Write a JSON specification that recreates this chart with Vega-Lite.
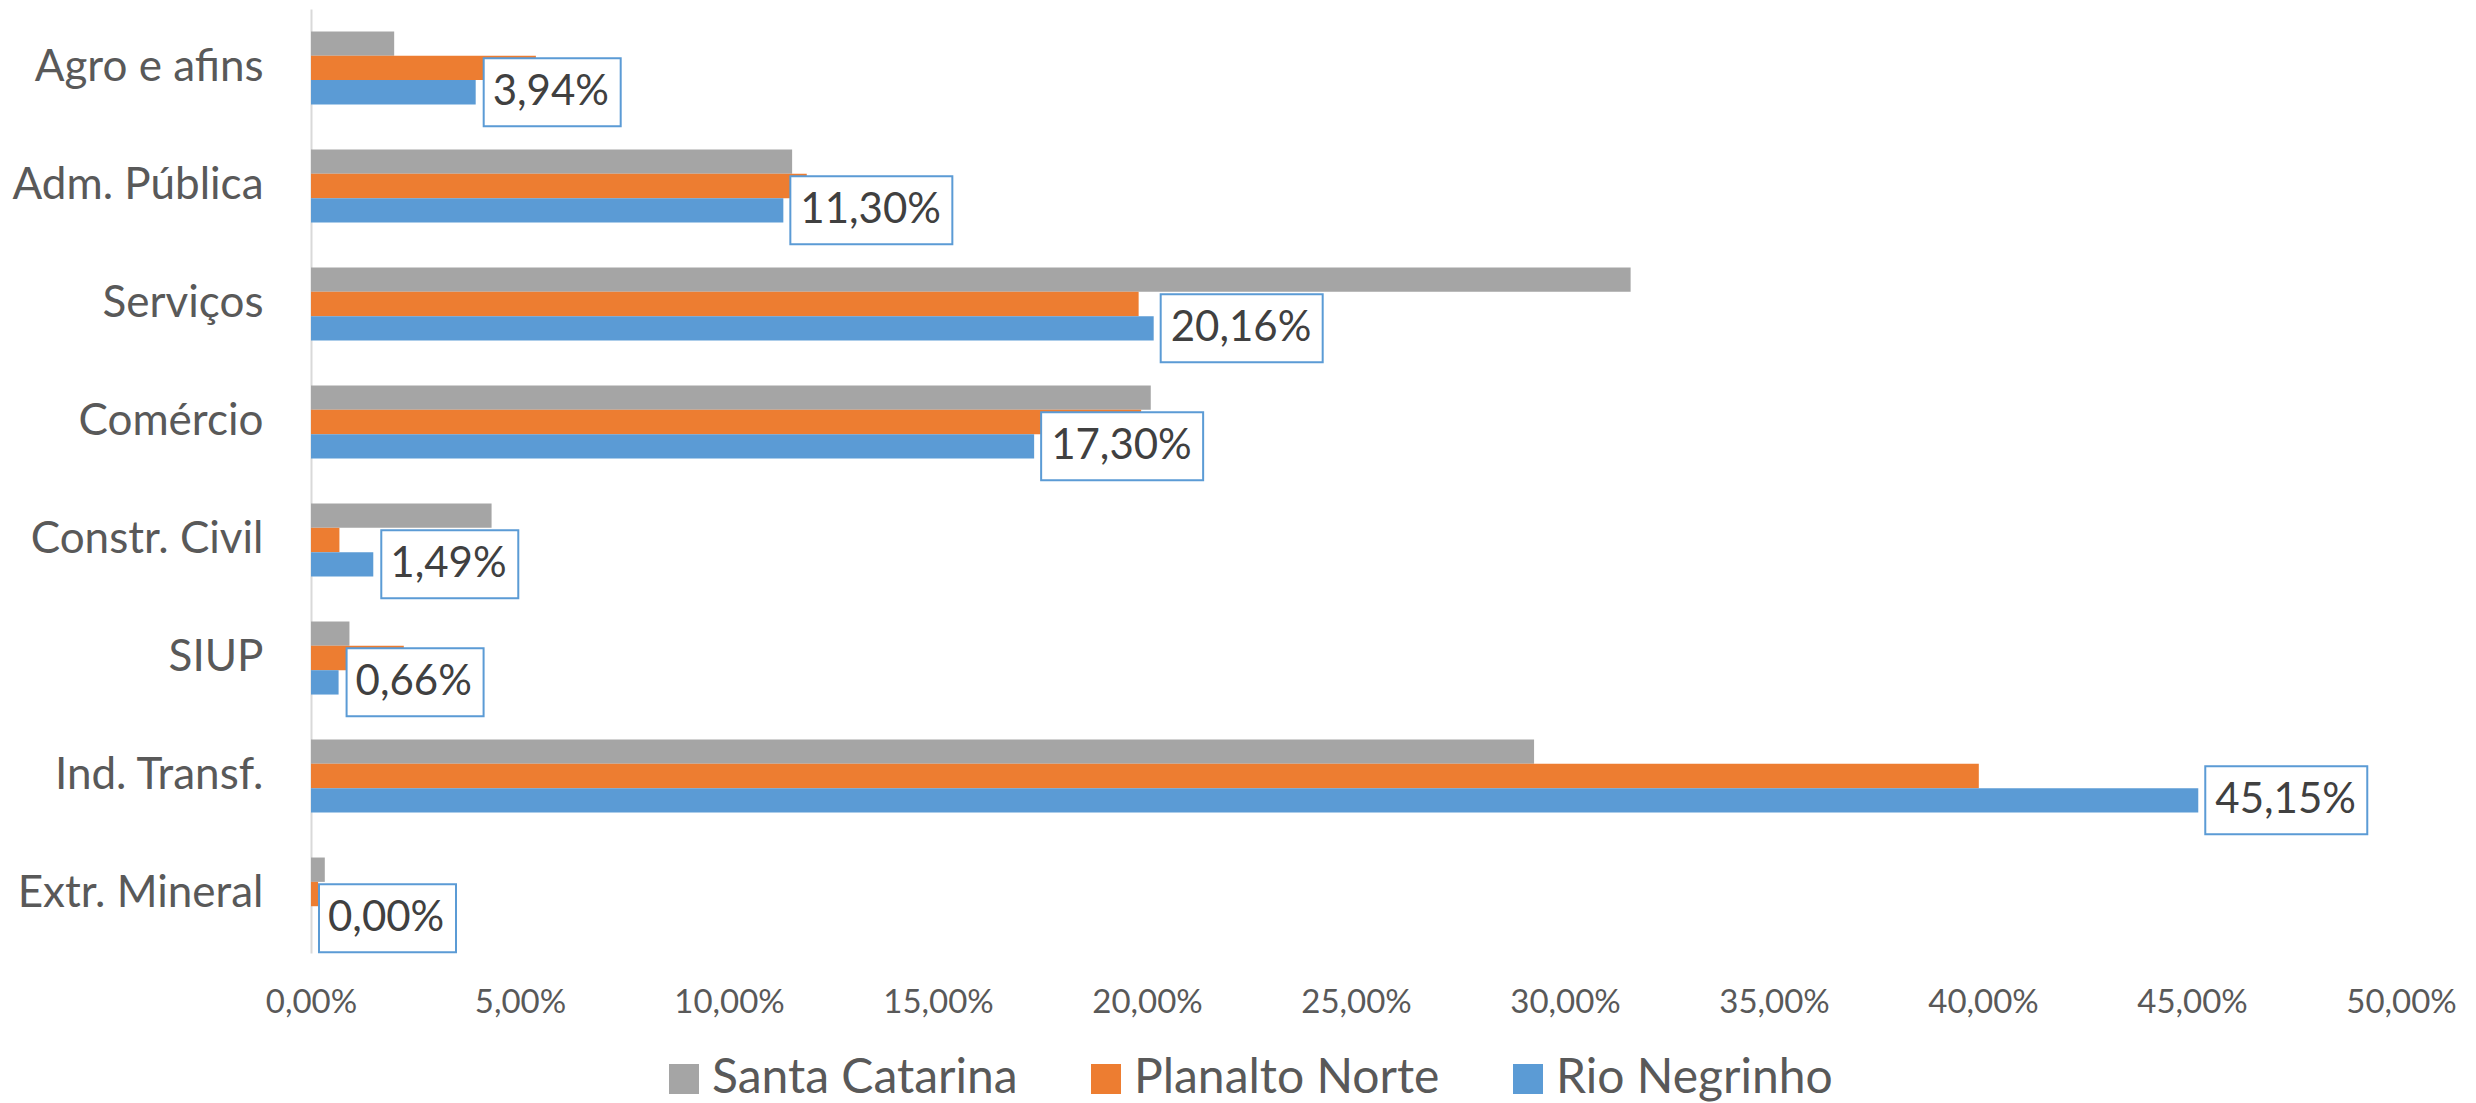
{
  "$schema": "https://vega.github.io/schema/vega-lite/v6.json",
  "width": 2090,
  "height": 944,
  "autosize": {"type": "none"},
  "padding": {"left": 311, "top": 9, "right": 75, "bottom": 150},
  "background": "white",
  "config": {
    "locale": {"number": {"decimal": ",", "thousands": ".", "grouping": [3], "currency": ["R$", ""]}},
    "view": {"stroke": null},
    "font": "Lato"
  },
  "data": {
    "values": [
      {"setor": "Agro e afins", "regiao": "Santa Catarina", "valor": 0.0199},
      {"setor": "Agro e afins", "regiao": "Planalto Norte", "valor": 0.0538},
      {"setor": "Agro e afins", "regiao": "Rio Negrinho", "valor": 0.0394},
      {"setor": "Adm. Pública", "regiao": "Santa Catarina", "valor": 0.1151},
      {"setor": "Adm. Pública", "regiao": "Planalto Norte", "valor": 0.1186},
      {"setor": "Adm. Pública", "regiao": "Rio Negrinho", "valor": 0.113},
      {"setor": "Serviços", "regiao": "Santa Catarina", "valor": 0.3157},
      {"setor": "Serviços", "regiao": "Planalto Norte", "valor": 0.198},
      {"setor": "Serviços", "regiao": "Rio Negrinho", "valor": 0.2016},
      {"setor": "Comércio", "regiao": "Santa Catarina", "valor": 0.2009},
      {"setor": "Comércio", "regiao": "Planalto Norte", "valor": 0.1986},
      {"setor": "Comércio", "regiao": "Rio Negrinho", "valor": 0.173},
      {"setor": "Constr. Civil", "regiao": "Santa Catarina", "valor": 0.0432},
      {"setor": "Constr. Civil", "regiao": "Planalto Norte", "valor": 0.0068},
      {"setor": "Constr. Civil", "regiao": "Rio Negrinho", "valor": 0.0149},
      {"setor": "SIUP", "regiao": "Santa Catarina", "valor": 0.0092},
      {"setor": "SIUP", "regiao": "Planalto Norte", "valor": 0.0222},
      {"setor": "SIUP", "regiao": "Rio Negrinho", "valor": 0.0066},
      {"setor": "Ind. Transf.", "regiao": "Santa Catarina", "valor": 0.2926},
      {"setor": "Ind. Transf.", "regiao": "Planalto Norte", "valor": 0.399},
      {"setor": "Ind. Transf.", "regiao": "Rio Negrinho", "valor": 0.4515},
      {"setor": "Extr. Mineral", "regiao": "Santa Catarina", "valor": 0.0033},
      {"setor": "Extr. Mineral", "regiao": "Planalto Norte", "valor": 0.0017},
      {"setor": "Extr. Mineral", "regiao": "Rio Negrinho", "valor": 0.0}
    ]
  },
  "encoding": {
    "y": {
      "field": "setor",
      "type": "nominal",
      "sort": ["Agro e afins", "Adm. Pública", "Serviços", "Comércio", "Constr. Civil", "SIUP", "Ind. Transf.", "Extr. Mineral"],
      "scale": {"paddingInner": 0.381, "paddingOuter": 0.19},
      "axis": {
        "title": null,
        "domainColor": "#D9D9D9",
        "domainWidth": 2,
        "ticks": false,
        "grid": false,
        "labelFont": "Lato",
        "labelFontSize": 44,
        "labelColor": "#595959",
        "labelPadding": 48,
        "labelLimit": 400
      }
    },
    "x": {
      "field": "valor",
      "type": "quantitative",
      "scale": {"domain": [0, 0.5]},
      "axis": {
        "title": null,
        "domain": false,
        "ticks": false,
        "grid": false,
        "values": [0, 0.05, 0.1, 0.15, 0.2, 0.25, 0.3, 0.35, 0.4, 0.45, 0.5],
        "format": ".2%",
        "labelFont": "Lato",
        "labelFontSize": 33,
        "labelColor": "#595959",
        "labelPadding": 33,
        "labelFlush": false,
        "labelOverlap": false
      }
    }
  },
  "layer": [
    {
      "mark": {"type": "bar"},
      "encoding": {
        "yOffset": {"field": "regiao", "type": "nominal", "sort": ["Santa Catarina", "Planalto Norte", "Rio Negrinho"], "scale": {"paddingInner": 0, "paddingOuter": 0}},
        "color": {
          "field": "regiao",
          "type": "nominal",
          "scale": {"domain": ["Santa Catarina", "Planalto Norte", "Rio Negrinho"], "range": ["#A5A5A5", "#ED7D31", "#5B9BD5"]},
          "legend": {
            "orient": "none",
            "legendX": 349,
            "legendY": 1046,
            "direction": "horizontal",
            "title": null,
            "symbolType": "square",
            "symbolSize": 900,
            "symbolStrokeWidth": 0,
            "labelFont": "Lato",
            "labelFontSize": 48,
            "labelColor": "#595959",
            "labelOffset": 4,
            "labelLimit": 600,
            "columnPadding": 64,
            "padding": 0
          }
        }
      }
    },
    {
      "transform": [{"filter": "datum.regiao === 'Rio Negrinho'"}],
      "mark": {"type": "point", "filled": true, "fill": "white", "stroke": "#5B9BD5", "strokeWidth": 2, "size": 4, "opacity": 1, "yOffset": 24.3},
      "encoding": {
        "shape": {"condition": {"test": "datum.valor >= 0.1", "value": "M7,-34H169V34H7Z"}, "value": "M8,-34H145V34H8Z"}
      }
    },
    {
      "transform": [{"filter": "datum.regiao === 'Rio Negrinho'"}],
      "mark": {"type": "text", "align": "left", "baseline": "middle", "dx": 17, "yOffset": 24.3, "font": "Lato", "fontSize": 42, "color": "#404040"},
      "encoding": {
        "text": {"field": "valor", "type": "quantitative", "format": ".2%"}
      }
    }
  ]
}
